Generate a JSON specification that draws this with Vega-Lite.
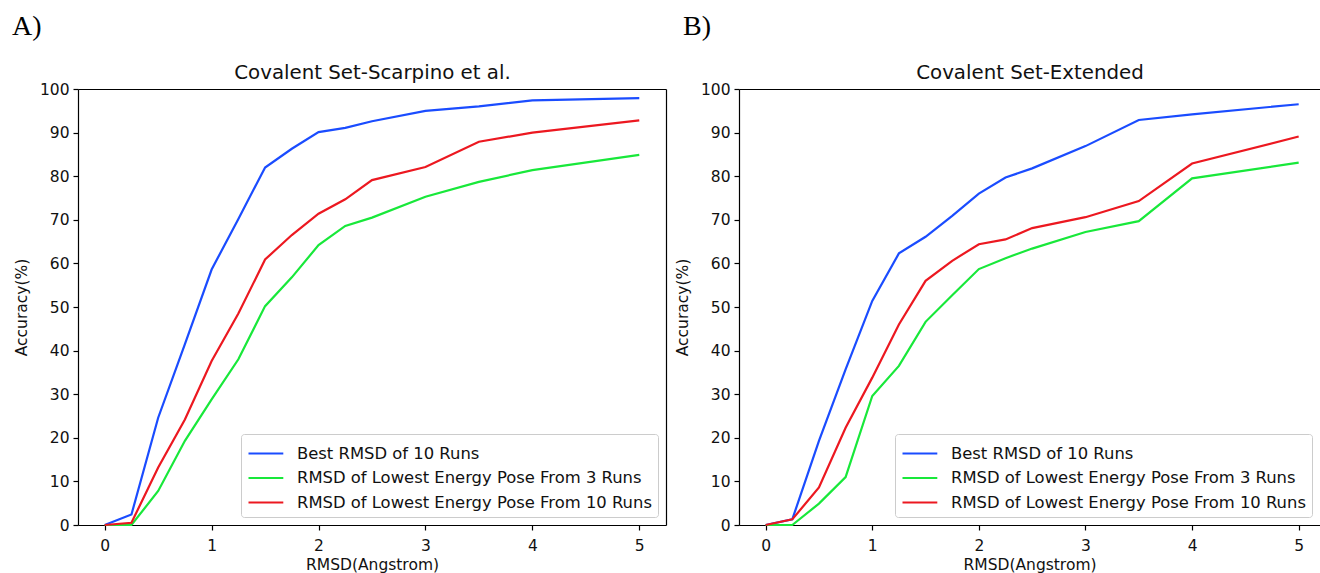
{
  "$schema": "https://vega.github.io/schema/vega-lite/v6.json",
  "background": "white",
  "autosize": {"type": "pad"},
  "padding": {"left": 12, "top": 13, "right": 0, "bottom": 0},
  "spacing": 73,
  "bounds": "flush",
  "config": {
    "font": "DejaVu Sans",
    "view": {"stroke": null},
    "axis": {"labelFont": "DejaVu Sans", "labelFontSize": 15.5, "labelColor": "#111", "titleFont": "DejaVu Sans", "titleFontSize": 15.5, "titleFontWeight": "normal", "titleColor": "#111", "domainColor": "#000", "domainWidth": 1.2, "tickColor": "#000", "tickWidth": 1.2, "tickSize": 5, "grid": false, "labelPadding": 4},
    "legend": {"orient": "bottom-right", "offset": 8, "fillColor": "white", "strokeColor": "#cccccc", "cornerRadius": 3, "padding": 6, "symbolType": "M-1,0L1.9,0", "symbolSize": 576, "symbolStrokeWidth": 2.2, "labelFont": "DejaVu Sans", "labelFontSize": 16.4, "labelColor": "#111", "labelLimit": 600, "labelOffset": 23, "rowPadding": 2.5},
    "title": {"font": "Liberation Serif", "fontSize": 28, "fontWeight": "normal", "color": "#000", "anchor": "start", "frame": "group", "baseline": "alphabetic"}
  },
  "resolve": {"scale": {"color": "independent"}, "legend": {"color": "independent"}},
  "datasets": {
    "A": [
      {"x": 0, "s": "Best RMSD of 10 Runs", "y": 0},
      {"x": 0.25, "s": "Best RMSD of 10 Runs", "y": 2.4},
      {"x": 0.5, "s": "Best RMSD of 10 Runs", "y": 24.6},
      {"x": 0.75, "s": "Best RMSD of 10 Runs", "y": 41.5},
      {"x": 1, "s": "Best RMSD of 10 Runs", "y": 58.6},
      {"x": 1.25, "s": "Best RMSD of 10 Runs", "y": 70.2},
      {"x": 1.5, "s": "Best RMSD of 10 Runs", "y": 82},
      {"x": 1.75, "s": "Best RMSD of 10 Runs", "y": 86.3},
      {"x": 2, "s": "Best RMSD of 10 Runs", "y": 90.1},
      {"x": 2.25, "s": "Best RMSD of 10 Runs", "y": 91.1},
      {"x": 2.5, "s": "Best RMSD of 10 Runs", "y": 92.6},
      {"x": 3, "s": "Best RMSD of 10 Runs", "y": 95},
      {"x": 3.5, "s": "Best RMSD of 10 Runs", "y": 96},
      {"x": 4, "s": "Best RMSD of 10 Runs", "y": 97.4},
      {"x": 5, "s": "Best RMSD of 10 Runs", "y": 97.9},
      {"x": 0, "s": "RMSD of Lowest Energy Pose From 3 Runs", "y": 0},
      {"x": 0.25, "s": "RMSD of Lowest Energy Pose From 3 Runs", "y": 0},
      {"x": 0.5, "s": "RMSD of Lowest Energy Pose From 3 Runs", "y": 7.8},
      {"x": 0.75, "s": "RMSD of Lowest Energy Pose From 3 Runs", "y": 19.3},
      {"x": 1, "s": "RMSD of Lowest Energy Pose From 3 Runs", "y": 28.8},
      {"x": 1.25, "s": "RMSD of Lowest Energy Pose From 3 Runs", "y": 38},
      {"x": 1.5, "s": "RMSD of Lowest Energy Pose From 3 Runs", "y": 50.2},
      {"x": 1.75, "s": "RMSD of Lowest Energy Pose From 3 Runs", "y": 56.8},
      {"x": 2, "s": "RMSD of Lowest Energy Pose From 3 Runs", "y": 64.2},
      {"x": 2.25, "s": "RMSD of Lowest Energy Pose From 3 Runs", "y": 68.6},
      {"x": 2.5, "s": "RMSD of Lowest Energy Pose From 3 Runs", "y": 70.5},
      {"x": 3, "s": "RMSD of Lowest Energy Pose From 3 Runs", "y": 75.3},
      {"x": 3.5, "s": "RMSD of Lowest Energy Pose From 3 Runs", "y": 78.7},
      {"x": 4, "s": "RMSD of Lowest Energy Pose From 3 Runs", "y": 81.4},
      {"x": 5, "s": "RMSD of Lowest Energy Pose From 3 Runs", "y": 84.9},
      {"x": 0, "s": "RMSD of Lowest Energy Pose From 10 Runs", "y": 0},
      {"x": 0.25, "s": "RMSD of Lowest Energy Pose From 10 Runs", "y": 0.5},
      {"x": 0.5, "s": "RMSD of Lowest Energy Pose From 10 Runs", "y": 13.2},
      {"x": 0.75, "s": "RMSD of Lowest Energy Pose From 10 Runs", "y": 24.2},
      {"x": 1, "s": "RMSD of Lowest Energy Pose From 10 Runs", "y": 37.6},
      {"x": 1.25, "s": "RMSD of Lowest Energy Pose From 10 Runs", "y": 48.5},
      {"x": 1.5, "s": "RMSD of Lowest Energy Pose From 10 Runs", "y": 60.9},
      {"x": 1.75, "s": "RMSD of Lowest Energy Pose From 10 Runs", "y": 66.5},
      {"x": 2, "s": "RMSD of Lowest Energy Pose From 10 Runs", "y": 71.4},
      {"x": 2.25, "s": "RMSD of Lowest Energy Pose From 10 Runs", "y": 74.7},
      {"x": 2.5, "s": "RMSD of Lowest Energy Pose From 10 Runs", "y": 79.1},
      {"x": 3, "s": "RMSD of Lowest Energy Pose From 10 Runs", "y": 82.1},
      {"x": 3.5, "s": "RMSD of Lowest Energy Pose From 10 Runs", "y": 87.9},
      {"x": 4, "s": "RMSD of Lowest Energy Pose From 10 Runs", "y": 90},
      {"x": 5, "s": "RMSD of Lowest Energy Pose From 10 Runs", "y": 92.8}
    ],
    "B": [
      {"x": 0, "s": "Best RMSD of 10 Runs", "y": 0},
      {"x": 0.25, "s": "Best RMSD of 10 Runs", "y": 1.3},
      {"x": 0.5, "s": "Best RMSD of 10 Runs", "y": 19.3},
      {"x": 0.75, "s": "Best RMSD of 10 Runs", "y": 35.7},
      {"x": 1, "s": "Best RMSD of 10 Runs", "y": 51.4},
      {"x": 1.25, "s": "Best RMSD of 10 Runs", "y": 62.3},
      {"x": 1.5, "s": "Best RMSD of 10 Runs", "y": 66.1},
      {"x": 1.75, "s": "Best RMSD of 10 Runs", "y": 70.9},
      {"x": 2, "s": "Best RMSD of 10 Runs", "y": 76},
      {"x": 2.25, "s": "Best RMSD of 10 Runs", "y": 79.7},
      {"x": 2.5, "s": "Best RMSD of 10 Runs", "y": 81.8},
      {"x": 3, "s": "Best RMSD of 10 Runs", "y": 86.9},
      {"x": 3.5, "s": "Best RMSD of 10 Runs", "y": 92.9},
      {"x": 4, "s": "Best RMSD of 10 Runs", "y": 94.2},
      {"x": 5, "s": "Best RMSD of 10 Runs", "y": 96.5},
      {"x": 0, "s": "RMSD of Lowest Energy Pose From 3 Runs", "y": 0},
      {"x": 0.25, "s": "RMSD of Lowest Energy Pose From 3 Runs", "y": 0},
      {"x": 0.5, "s": "RMSD of Lowest Energy Pose From 3 Runs", "y": 4.9},
      {"x": 0.75, "s": "RMSD of Lowest Energy Pose From 3 Runs", "y": 11},
      {"x": 1, "s": "RMSD of Lowest Energy Pose From 3 Runs", "y": 29.6},
      {"x": 1.25, "s": "RMSD of Lowest Energy Pose From 3 Runs", "y": 36.5},
      {"x": 1.5, "s": "RMSD of Lowest Energy Pose From 3 Runs", "y": 46.6},
      {"x": 1.75, "s": "RMSD of Lowest Energy Pose From 3 Runs", "y": 52.7},
      {"x": 2, "s": "RMSD of Lowest Energy Pose From 3 Runs", "y": 58.7},
      {"x": 2.25, "s": "RMSD of Lowest Energy Pose From 3 Runs", "y": 61.2},
      {"x": 2.5, "s": "RMSD of Lowest Energy Pose From 3 Runs", "y": 63.4},
      {"x": 3, "s": "RMSD of Lowest Energy Pose From 3 Runs", "y": 67.2},
      {"x": 3.5, "s": "RMSD of Lowest Energy Pose From 3 Runs", "y": 69.7},
      {"x": 4, "s": "RMSD of Lowest Energy Pose From 3 Runs", "y": 79.5},
      {"x": 5, "s": "RMSD of Lowest Energy Pose From 3 Runs", "y": 83.1},
      {"x": 0, "s": "RMSD of Lowest Energy Pose From 10 Runs", "y": 0},
      {"x": 0.25, "s": "RMSD of Lowest Energy Pose From 10 Runs", "y": 1.3},
      {"x": 0.5, "s": "RMSD of Lowest Energy Pose From 10 Runs", "y": 8.6},
      {"x": 0.75, "s": "RMSD of Lowest Energy Pose From 10 Runs", "y": 22.3},
      {"x": 1, "s": "RMSD of Lowest Energy Pose From 10 Runs", "y": 33.8},
      {"x": 1.25, "s": "RMSD of Lowest Energy Pose From 10 Runs", "y": 46},
      {"x": 1.5, "s": "RMSD of Lowest Energy Pose From 10 Runs", "y": 56},
      {"x": 1.75, "s": "RMSD of Lowest Energy Pose From 10 Runs", "y": 60.6},
      {"x": 2, "s": "RMSD of Lowest Energy Pose From 10 Runs", "y": 64.4},
      {"x": 2.25, "s": "RMSD of Lowest Energy Pose From 10 Runs", "y": 65.5},
      {"x": 2.5, "s": "RMSD of Lowest Energy Pose From 10 Runs", "y": 68.1},
      {"x": 3, "s": "RMSD of Lowest Energy Pose From 10 Runs", "y": 70.6},
      {"x": 3.5, "s": "RMSD of Lowest Energy Pose From 10 Runs", "y": 74.3},
      {"x": 4, "s": "RMSD of Lowest Energy Pose From 10 Runs", "y": 82.9},
      {"x": 5, "s": "RMSD of Lowest Energy Pose From 10 Runs", "y": 89.1}
    ]
  },
  "hconcat": [
    {
      "width": 588,
      "height": 436,
      "title": {"text": "A)", "dx": -66, "offset": 21},
      "data": {"name": "A"},
      "layer": [
        {
          "mark": {"type": "line", "strokeWidth": 2.2},
          "encoding": {
            "x": {"field": "x", "type": "quantitative", "scale": {"domain": [-0.25, 5.25], "nice": false, "zero": false}, "axis": {"orient": "bottom", "values": [0, 1, 2, 3, 4, 5], "title": "RMSD(Angstrom)", "labelPadding": 8, "titlePadding": 4, "labelFlush": false}},
            "y": {"field": "y", "type": "quantitative", "scale": {"domain": [0, 100], "nice": false}, "axis": {"orient": "left", "values": [0, 10, 20, 30, 40, 50, 60, 70, 80, 90, 100], "title": "Accuracy(%)", "titlePadding": 10, "labelFlush": false}},
            "color": {"field": "s", "type": "nominal", "scale": {"domain": ["Best RMSD of 10 Runs", "RMSD of Lowest Energy Pose From 3 Runs", "RMSD of Lowest Energy Pose From 10 Runs"], "range": ["#1a4cff", "#18e83a", "#ec1820"]}, "legend": {"title": null}}
          }
        },
        {
          "mark": {"type": "point", "opacity": 0},
          "encoding": {
            "x": {"field": "x", "type": "quantitative", "axis": {"orient": "top", "title": "Covalent Set-Scarpino et al.", "labels": false, "ticks": false, "titleFontSize": 19.8, "titlePadding": 7}},
            "y": {"field": "y", "type": "quantitative", "axis": {"orient": "right", "title": null, "labels": false, "ticks": false}}
          }
        }
      ]
    },
    {
      "width": 581,
      "height": 436,
      "title": {"text": "B)", "dx": -56, "offset": 21},
      "data": {"name": "B"},
      "layer": [
        {
          "mark": {"type": "line", "strokeWidth": 2.2},
          "encoding": {
            "x": {"field": "x", "type": "quantitative", "scale": {"domain": [-0.25, 5.2], "nice": false, "zero": false}, "axis": {"orient": "bottom", "values": [0, 1, 2, 3, 4, 5], "title": "RMSD(Angstrom)", "labelPadding": 8, "titlePadding": 4, "labelFlush": false}},
            "y": {"field": "y", "type": "quantitative", "scale": {"domain": [0, 100], "nice": false}, "axis": {"orient": "left", "values": [0, 10, 20, 30, 40, 50, 60, 70, 80, 90, 100], "title": "Accuracy(%)", "titlePadding": 10, "labelFlush": false}},
            "color": {"field": "s", "type": "nominal", "scale": {"domain": ["Best RMSD of 10 Runs", "RMSD of Lowest Energy Pose From 3 Runs", "RMSD of Lowest Energy Pose From 10 Runs"], "range": ["#1a4cff", "#18e83a", "#ec1820"]}, "legend": {"title": null}}
          }
        },
        {
          "mark": {"type": "point", "opacity": 0},
          "encoding": {
            "x": {"field": "x", "type": "quantitative", "axis": {"orient": "top", "title": "Covalent Set-Extended", "labels": false, "ticks": false, "titleFontSize": 19.8, "titlePadding": 7}}
          }
        }
      ]
    }
  ]
}
